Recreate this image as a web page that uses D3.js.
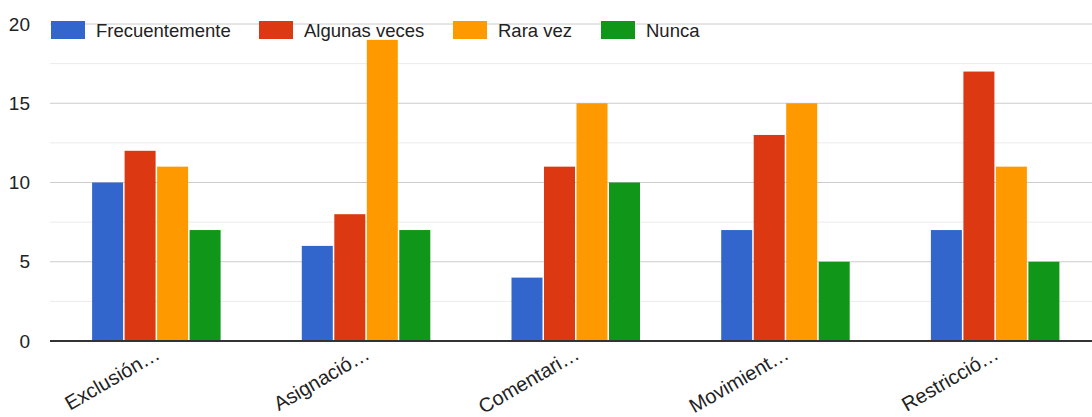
<!DOCTYPE html>
<html>
<head>
<meta charset="utf-8">
<script src="https://cdn.jsdelivr.net/npm/d3@7"></script>
<style>
  body { margin: 0; background: #fff; }
  svg { display: block; font-family: "Liberation Sans", Arial, sans-serif; }
</style>
</head>
<body>
<svg id="chart"></svg>
<script>
const categories = ["Exclusión…", "Asignació…", "Comentari…", "Movimient…", "Restricció…"];
const seriesNames = ["Frecuentemente", "Algunas veces", "Rara vez", "Nunca"];
const frecuentemente = [10, 6, 4, 7, 7];
const algunasVeces = [12, 8, 11, 13, 17];
const raraVez = [11, 19, 15, 15, 11];
const nunca = [7, 7, 10, 5, 5];
const colors = ["#3366cc", "#dc3912", "#ff9900", "#109618"];
const yTicks = [0, 5, 10, 15, 20];

const width = 1092;
const height = 417;
const svg = d3.select("#chart").attr("width", width).attr("height", height);

const values = [frecuentemente, algunasVeces, raraVez, nunca];
const data = categories.map((c, i) => ({
    cat: c,
    vals: seriesNames.map((s, j) => ({ s, v: values[j][i], color: colors[j] }))
}));

const y = d3.scaleLinear().domain([0, 20]).range([341, 24]);
const x0 = d3.scaleBand().domain(categories).range([51.5, 1100]);
const x1 = d3.scaleBand().domain(seriesNames)
    .range([x0.bandwidth() / 2 - 65, x0.bandwidth() / 2 + 65]);

// minor gridlines
svg.append("g").selectAll("line")
    .data(d3.range(2.5, 20, 5))
    .join("line")
    .attr("x1", 50).attr("x2", width)
    .attr("y1", d => y(d)).attr("y2", d => y(d))
    .attr("stroke", "#ebebeb").attr("stroke-width", 1);

// major gridlines
svg.append("g").selectAll("line")
    .data(yTicks.filter(d => d > 0))
    .join("line")
    .attr("x1", 50).attr("x2", width)
    .attr("y1", d => y(d)).attr("y2", d => y(d))
    .attr("stroke", "#cccccc").attr("stroke-width", 1);

// y labels
const yAxis = svg.append("g")
    .attr("transform", "translate(30,0)")
    .call(d3.axisLeft(y).tickValues(yTicks).tickSize(0).tickPadding(0));
yAxis.select(".domain").remove();
yAxis.selectAll("text")
    .attr("font-size", "19px")
    .attr("fill", "#222")
    .attr("font-family", "Liberation Sans, Arial, sans-serif");

// bars
const groups = svg.append("g").selectAll("g")
    .data(data)
    .join("g")
    .attr("transform", d => `translate(${x0(d.cat)},0)`);

groups.selectAll("rect")
    .data(d => d.vals)
    .join("rect")
    .attr("x", d => x1(d.s) + 0.75)
    .attr("width", x1.bandwidth() - 1.5)
    .attr("y", d => y(d.v))
    .attr("height", d => y(0) - y(d.v))
    .attr("fill", d => d.color);

// baseline
svg.append("line")
    .attr("x1", 50).attr("x2", width)
    .attr("y1", y(0)).attr("y2", y(0))
    .attr("stroke", "#333").attr("stroke-width", 2);

// x labels
svg.append("g").selectAll("text")
    .data(categories)
    .join("text")
    .attr("transform", d => `translate(${x0(d) + x0.bandwidth() / 2 + 5},${y(0) + 17}) rotate(-30)`)
    .attr("text-anchor", "end")
    .attr("font-size", "20px")
    .attr("fill", "#222")
    .text(d => d);

// legend
const legendX = [51, 259, 453, 601];
const legend = svg.append("g").selectAll("g")
    .data(seriesNames)
    .join("g")
    .attr("transform", (d, i) => `translate(${legendX[i]},21)`);

legend.append("rect")
    .attr("width", 34).attr("height", 18)
    .attr("fill", (d, i) => colors[i]);

legend.append("text")
    .attr("x", 45).attr("y", 16)
    .attr("font-size", "18.5px")
    .attr("fill", "#222")
    .text(d => d);
</script>
</body>
</html>
